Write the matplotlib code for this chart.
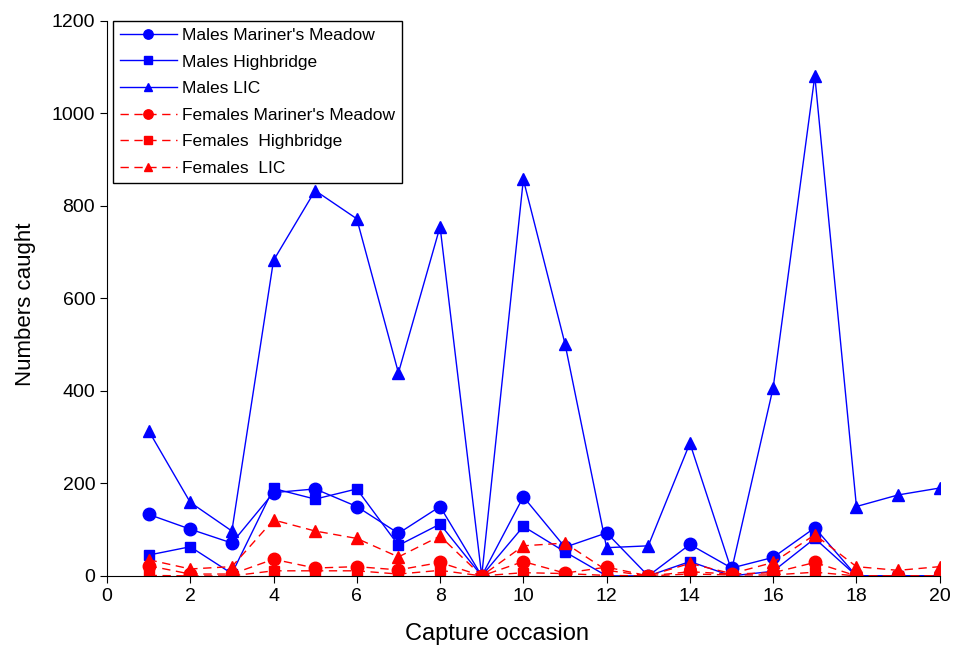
import matplotlib
matplotlib.use('Agg')
import matplotlib.pyplot as plt

plt.rcParams['font.family'] = ['Liberation Sans', 'DejaVu Sans']

occasion = list(range(1, 21))

males_mm = [133, 101, 71, 180, 188, 150, 92, 150, 0, 171, 62, 93, 0, 68, 17, 40, 104, 0, 0, 0]
males_hb = [45, 63, 5, 189, 166, 188, 66, 112, 0, 107, 52, 0, 0, 31, 0, 10, 81, 0, 0, 0]
males_lic = [314, 159, 97, 682, 833, 772, 439, 755, 0, 857, 502, 61, 65, 287, 12, 407, 1081, 150, 175, 190]
females_mm = [22, 4, 4, 36, 17, 20, 13, 29, 0, 31, 6, 19, 0, 9, 4, 7, 29, 0, 0, 0]
females_hb = [1, 0, 0, 11, 11, 11, 4, 12, 0, 7, 5, 1, 0, 4, 2, 2, 8, 0, 0, 0]
females_lic = [35, 15, 20, 121, 97, 81, 41, 86, 0, 65, 71, 12, 0, 27, 5, 29, 89, 20, 12, 20]

labels = ["Males Mariner's Meadow", "Males Highbridge", "Males LIC",
          "Females Mariner's Meadow", "Females  Highbridge", "Females  LIC"]

fig = plt.figure(figsize=(9.55, 6.5), dpi=100)
ax = fig.add_axes([0.112, 0.114, 0.872, 0.854])

blue = '#0000ff'
red = '#ff0000'
dash = (0, (6, 4))

ax.plot(occasion, males_mm, color=blue, lw=1, marker='o', ms=9, label=labels[0])
ax.plot(occasion, males_hb, color=blue, lw=1, marker='s', ms=7, label=labels[1])
ax.plot(occasion, males_lic, color=blue, lw=1, marker='^', ms=8, label=labels[2])
ax.plot(occasion, females_mm, color=red, lw=1, ls=dash, marker='o', ms=9, label=labels[3])
ax.plot(occasion, females_hb, color=red, lw=1, ls=dash, marker='s', ms=7, label=labels[4])
ax.plot(occasion, females_lic, color=red, lw=1, ls=dash, marker='^', ms=8, label=labels[5])

ax.set_xlim(0, 20)
ax.set_ylim(0, 1200)
ax.set_xticks(range(0, 21, 2))
ax.set_yticks(range(0, 1201, 200))
ax.spines['top'].set_visible(False)
ax.spines['right'].set_visible(False)
ax.tick_params(direction='out', length=5, labelsize=14)
ax.set_xlabel('Capture occasion', fontsize=17)
ax.xaxis.set_label_coords(0.468, -0.085)
ax.set_ylabel('Numbers caught', fontsize=16)
ax.yaxis.set_label_coords(-0.085, 0.49)

leg = ax.legend(loc='upper left', bbox_to_anchor=(0.007, 1.0), fontsize=12.5,
                frameon=True, fancybox=False, edgecolor='black', framealpha=1,
                handlelength=3.3, markerscale=0.75, borderpad=0.4, labelspacing=0.66,
                handletextpad=0.3, borderaxespad=0)
leg.get_frame().set_linewidth(1)

fig.savefig('out.png', dpi=100)
